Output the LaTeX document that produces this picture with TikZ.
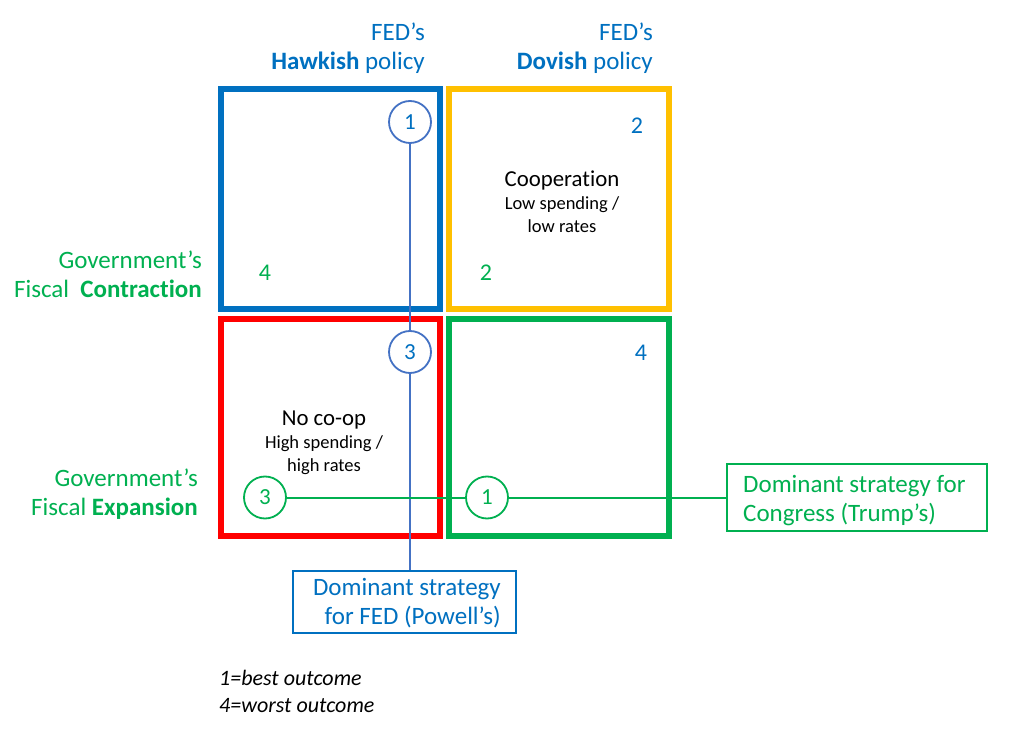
\documentclass[tikz,border=0pt]{standalone}
\usepackage{fontspec}
\setmainfont{Carlito}[Ligatures={NoCommon}]
\definecolor{fedblue}{HTML}{0070C0}
\definecolor{lineblue}{HTML}{4472C4}
\definecolor{govgreen}{HTML}{00B050}
\definecolor{coopyellow}{HTML}{FFC000}
\definecolor{nored}{HTML}{FF0000}
\tikzset{
  cell/.style={line width=6pt},
  big/.style={inner sep=0pt, font=\fontsize{25}{29}\selectfont},
  mid/.style={inner sep=0pt, font=\fontsize{22.8}{27}\selectfont, text=black},
  small/.style={inner sep=0pt, font=\fontsize{18.5}{23}\selectfont, text=black},
  legend/.style={inner sep=0pt, font=\fontsize{22}{26}\itshape\selectfont, text=black},
  num/.style={inner sep=0pt, font=\fontsize{24}{28}\selectfont},
  ring/.style={circle, draw, line width=1.8pt, fill=white, minimum size=42pt, inner sep=0pt, font=\fontsize{23}{26}\selectfont},
  callout/.style={draw, line width=2pt, fill=white, inner sep=0pt},
  link/.style={line width=2pt}
}
\begin{document}
\begin{tikzpicture}[x=1pt,y=-1pt]
\useasboundingbox (0,0) rectangle (1012,735);
% quadrants
\draw[cell, fedblue] (221,89.5) rectangle (440,309);
\draw[cell, coopyellow] (448.7,89.5) rectangle (669,309);
\draw[cell, nored] (221,319.5) rectangle (440,535.7);
\draw[cell, govgreen] (448.7,319.5) rectangle (669,535.7);
% column headers
\node[big, text=fedblue, anchor=base east] (h1a) at (425,41) {FED’s};
\node[big, text=fedblue, anchor=base east] (h1b) at (425,70) {\textbf{Hawkish} policy};
\node[big, text=fedblue, anchor=base east] (h2a) at (653,41) {FED’s};
\node[big, text=fedblue, anchor=base east] (h2b) at (653,70) {\textbf{Dovish} policy};
% row headers
\node[big, text=govgreen, anchor=base east] (r1a) at (202,269) {Government’s};
\node[big, text=govgreen, anchor=base east] (r1b) at (202,298) {Fiscal\ \ \textbf{Contraction}};
\node[big, text=govgreen, anchor=base east] (r2a) at (198,486) {Government’s};
\node[big, text=govgreen, anchor=base east] (r2b) at (198,515) {Fiscal \textbf{Expansion}};
% cell numbers
\node[num, text=fedblue, anchor=base] (n2b) at (637,134) {2};
\node[num, text=govgreen, anchor=base] (n2g) at (486,281) {2};
\node[num, text=govgreen, anchor=base] (n4g) at (265,281) {4};
\node[num, text=fedblue, anchor=base] (n4b) at (641,360) {4};
% cell texts
\node[mid, anchor=base] (coop) at (562,187) {Cooperation};
\node[small, anchor=base] (coop2) at (562,210) {Low spending /};
\node[small, anchor=base] (coop3) at (562,233) {low rates};
\node[mid, anchor=base] (noco) at (324,425) {No co-op};
\node[small, anchor=base] (noco2) at (324,448) {High spending /};
\node[small, anchor=base] (noco3) at (324,471) {high rates};
% callout boxes
\node[callout, draw=fedblue, minimum width=223pt, minimum height=62pt] (fedbox) at (404.5,601.5) {};
\node[big, text=fedblue, anchor=base east] (fedt1) at (501,595) {Dominant strategy};
\node[big, text=fedblue, anchor=base east] (fedt2) at (501,624) {for FED (Powell’s)};
\node[callout, draw=govgreen, minimum width=260pt, minimum height=67pt] (conbox) at (857,497.5) {};
\node[big, text=govgreen, anchor=base west] (cont1) at (743,492) {Dominant strategy for};
\node[big, text=govgreen, anchor=base west] (cont2) at (743,521) {Congress (Trump’s)};
% circles
\node[ring, draw=lineblue, text=fedblue] (b1) at (410,122) {1};
\node[ring, draw=lineblue, text=fedblue] (b3) at (410,352) {3};
\node[ring, draw=govgreen, text=govgreen] (g3) at (265,497.5) {3};
\node[ring, draw=govgreen, text=govgreen] (g1) at (487,497.5) {1};
% connectors
\draw[link, lineblue] (b1.south) -- (b3.north);
\draw[link, lineblue] (b3.south) -- (b3.south |- fedbox.north);
\draw[link, govgreen] (g3.east) -- (g1.west);
\draw[link, govgreen] (g1.east) -- (conbox.west);
% legend
\node[legend, anchor=base west] (leg1) at (219,685) {1=best outcome};
\node[legend, anchor=base west] (leg2) at (219,712) {4=worst outcome};
\end{tikzpicture}
\end{document}
